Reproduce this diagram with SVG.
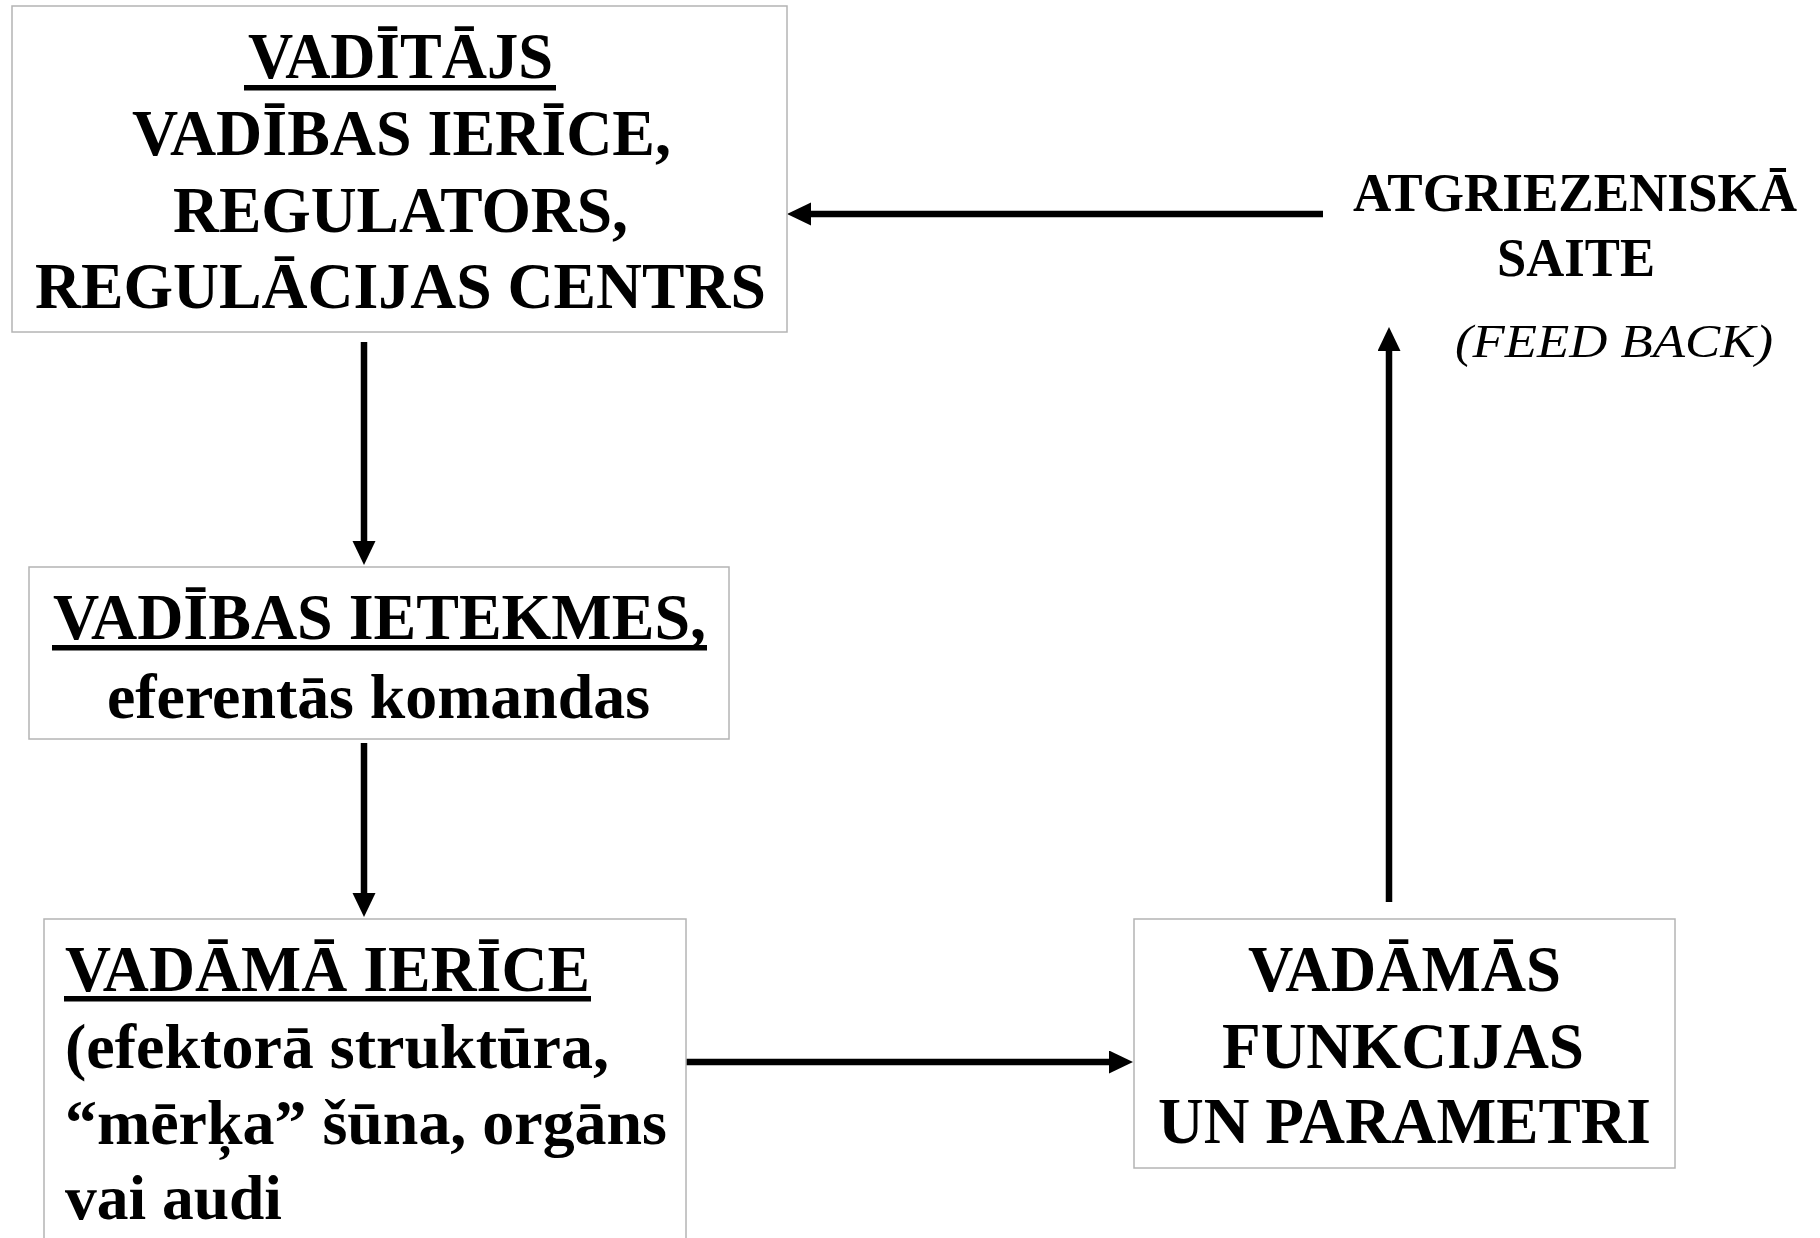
<svg xmlns="http://www.w3.org/2000/svg" width="1820" height="1238" viewBox="0 0 1820 1238">
<style>
  .box { fill: #ffffff; stroke: #b4b4b4; stroke-width: 1.5; }
  .t { font-family: "Liberation Serif", "Times New Roman", serif; font-weight: bold; font-size: 64px; fill: #000; }
  .h { font-size: 66px; }
  .c { text-anchor: middle; }
  .i { font-family: "Liberation Serif", "Times New Roman", serif; font-style: italic; font-size: 47px; fill: #000; text-anchor: middle; }
  .ul { fill: #000; }
  .conn { stroke: #000; stroke-width: 6.5; fill: none; }
</style>
<defs>
  <marker id="ah" markerUnits="userSpaceOnUse" markerWidth="26" markerHeight="25" refX="2" refY="11.5" orient="auto">
    <path d="M0,0 L24,11.5 L0,23 z" fill="#000"/>
  </marker>
</defs>
<rect x="0" y="0" width="1820" height="1238" fill="#ffffff"/>

<g id="connectors">
  <line class="conn" x1="364" y1="342" x2="364" y2="543" marker-end="url(#ah)"/>
  <line class="conn" x1="364" y1="743" x2="364" y2="895" marker-end="url(#ah)"/>
  <line class="conn" x1="686" y1="1062" x2="1111" y2="1062" marker-end="url(#ah)"/>
  <line class="conn" x1="1389" y1="902" x2="1389" y2="349" marker-end="url(#ah)"/>
  <line class="conn" x1="1323" y1="214" x2="809" y2="214" marker-end="url(#ah)"/>
</g>

<g id="vaditajs">
  <rect class="box" x="12" y="6" width="775" height="326"/>
  <text class="t h c" x="400.5" y="78" textLength="305" lengthAdjust="spacingAndGlyphs">VADĪTĀJS</text>
  <rect class="ul" x="244" y="85" width="312" height="5.5"/>
  <text class="t h c" x="401.5" y="155" textLength="539" lengthAdjust="spacingAndGlyphs">VADĪBAS IERĪCE,</text>
  <text class="t h c" x="400.5" y="232" textLength="455" lengthAdjust="spacingAndGlyphs">REGULATORS,</text>
  <text class="t h c" x="400.5" y="308" textLength="731" lengthAdjust="spacingAndGlyphs">REGULĀCIJAS CENTRS</text>
</g>

<g id="vadibas-ietekmes">
  <rect class="box" x="29" y="567" width="700" height="172"/>
  <text class="t h c" x="379.5" y="639" textLength="653" lengthAdjust="spacingAndGlyphs">VADĪBAS IETEKMES,</text>
  <rect class="ul" x="52" y="645" width="655" height="5.5"/>
  <text class="t c" x="378.5" y="718" textLength="543" lengthAdjust="spacingAndGlyphs">eferentās komandas</text>
</g>

<g id="vadama-ierice">
  <rect class="box" x="44" y="919" width="642" height="340"/>
  <text class="t h" x="65" y="991" textLength="525" lengthAdjust="spacingAndGlyphs">VADĀMĀ IERĪCE</text>
  <rect class="ul" x="64" y="996" width="527" height="5.5"/>
  <text class="t" x="65" y="1068" textLength="544" lengthAdjust="spacingAndGlyphs">(efektorā struktūra,</text>
  <text class="t" x="65" y="1144" textLength="602" lengthAdjust="spacingAndGlyphs">“mērķa” šūna, orgāns</text>
  <text class="t" x="65" y="1219" textLength="217" lengthAdjust="spacingAndGlyphs">vai audi</text>
</g>

<g id="vadamas-funkcijas">
  <rect class="box" x="1134" y="919" width="541" height="249"/>
  <text class="t h c" x="1404.5" y="991" textLength="313" lengthAdjust="spacingAndGlyphs">VADĀMĀS</text>
  <text class="t h c" x="1403" y="1068" textLength="362" lengthAdjust="spacingAndGlyphs">FUNKCIJAS</text>
  <text class="t h c" x="1404.5" y="1143" textLength="493" lengthAdjust="spacingAndGlyphs">UN PARAMETRI</text>
</g>

<g id="atgriezeniska-saite">
  <text class="t c" style="font-size:54px" x="1575" y="211" textLength="444" lengthAdjust="spacingAndGlyphs">ATGRIEZENISKĀ</text>
  <text class="t c" style="font-size:54px" x="1576" y="276" textLength="158" lengthAdjust="spacingAndGlyphs">SAITE</text>
  <text class="i" x="1614" y="357" textLength="318" lengthAdjust="spacingAndGlyphs">(FEED BACK)</text>
</g>
</svg>
